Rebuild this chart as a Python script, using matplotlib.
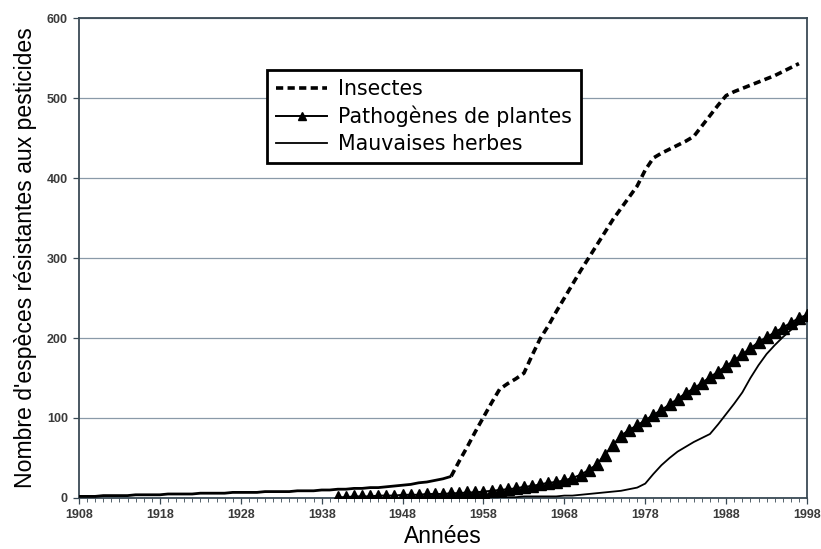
import matplotlib
matplotlib.use("Agg")
import matplotlib.pyplot as plt
from matplotlib.ticker import MultipleLocator, FixedLocator

# Years and cumulative counts of resistant species
insect_years = list(range(1908, 1998))
insectes = [2, 2, 2, 3, 3, 3, 3, 4, 4, 4,
            4, 5, 5, 5, 5, 6, 6, 6, 6, 7,
            7, 7, 7, 8, 8, 8, 8, 9, 9, 9,
            10, 10, 11, 11, 12, 12, 13, 13, 14, 15,
            16, 17, 19, 20, 22, 24, 27, 46, 64, 83,
            101, 119, 136, 143, 149, 156, 178, 199, 215, 233,
            250, 267, 284, 300, 316, 332, 348, 362, 376, 390,
            410, 425, 431, 436, 441, 446, 452, 465, 478, 491,
            503, 508, 512, 516, 520, 524, 528, 533, 538, 543]

patho_years = list(range(1940, 1999))
pathogenes = [1, 1, 2, 2, 2, 3, 3, 3, 4, 4,
              4, 5, 5, 5, 6, 6, 7, 7, 8, 9,
              10, 11, 12, 14, 15, 17, 19, 20, 22, 25,
              29, 35, 42, 54, 66, 78, 85, 91, 97, 104,
              110, 117, 124, 131, 137, 144, 151, 158, 165, 172,
              180, 187, 195, 201, 207, 213, 219, 225, 229]

weed_years = list(range(1950, 1998))
mauvaises = [1, 1, 1, 1, 1, 1, 1, 1, 1, 1,
             1, 1, 1, 2, 2, 2, 2, 2, 3, 3,
             4, 5, 6, 7, 8, 9, 11, 13, 18, 30,
             41, 50, 58, 64, 70, 75, 80, 92, 105, 118,
             132, 150, 166, 180, 191, 201, 210, 218]

x_ticks = list(range(1908, 1999, 10))
y_ticks = [0, 100, 200, 300, 400, 500, 600]

fig = plt.figure(figsize=(8.21, 5.49), dpi=100)
ax = fig.add_axes([0.0962, 0.0929, 0.8868, 0.8743])

spine_color = "#3a4a55"
grid_color = "#8a9aa8"

# The slow early rise of the insect curve is dense enough to read as a solid stroke
split = insect_years.index(1954) + 1
ax.plot(insect_years[:split], insectes[:split], color="black", lw=2.0,
        solid_capstyle="butt", zorder=3)
ax.plot(insect_years[split - 1:], insectes[split - 1:], color="black", lw=2.6,
        dashes=(2.0, 1.2), dash_capstyle="butt", zorder=3)
ax.plot([], [], color="black", lw=2.6, dashes=(2.0, 1.2),
        dash_capstyle="butt", label="Insectes")
ax.plot(patho_years, pathogenes, color="black", lw=1.4, marker="^",
        markersize=8.5, label="Pathogènes de plantes", zorder=4)
ax.plot(weed_years, mauvaises, color="black", lw=1.3,
        label="Mauvaises herbes", zorder=3)

ax.set_xlim(1908, 1998)
ax.set_ylim(0, 600)
ax.xaxis.set_major_locator(FixedLocator(x_ticks))
ax.xaxis.set_minor_locator(MultipleLocator(1))
ax.yaxis.set_major_locator(FixedLocator(y_ticks))

ax.yaxis.grid(True, color=grid_color, lw=0.9)
ax.set_axisbelow(True)

for s in ax.spines.values():
    s.set_color(spine_color)
    s.set_linewidth(1.3)

ax.tick_params(axis="both", which="major", length=4, width=0.9,
               colors=spine_color, direction="out", pad=4)
ax.tick_params(axis="x", which="minor", length=3, width=0.6,
               colors=spine_color, direction="out")
for lab in ax.get_xticklabels() + ax.get_yticklabels():
    lab.set_fontfamily("Liberation Sans")
    lab.set_fontsize(9)
    lab.set_fontweight("bold")
    lab.set_color("#3a3a3a")

ax.set_xlabel("Années", family="Liberation Sans", fontsize=16.5, labelpad=3)
ax.set_ylabel("Nombre d'espèces résistantes aux pesticides",
              family="Liberation Sans", fontsize=16.6, labelpad=7)

leg = ax.legend(loc="upper left", bbox_to_anchor=(0.258, 0.8917),
                prop={"family": "DejaVu Sans", "size": 14.8},
                frameon=True, fancybox=False, handlelength=2.5,
                handletextpad=0.5, borderpad=0.45, labelspacing=0.32,
                markerscale=0.6, borderaxespad=0)
frame = leg.get_frame()
frame.set_edgecolor("black")
frame.set_linewidth(2.0)
frame.set_facecolor("white")
frame.set_alpha(1)

fig.savefig("out.png", dpi=100)
